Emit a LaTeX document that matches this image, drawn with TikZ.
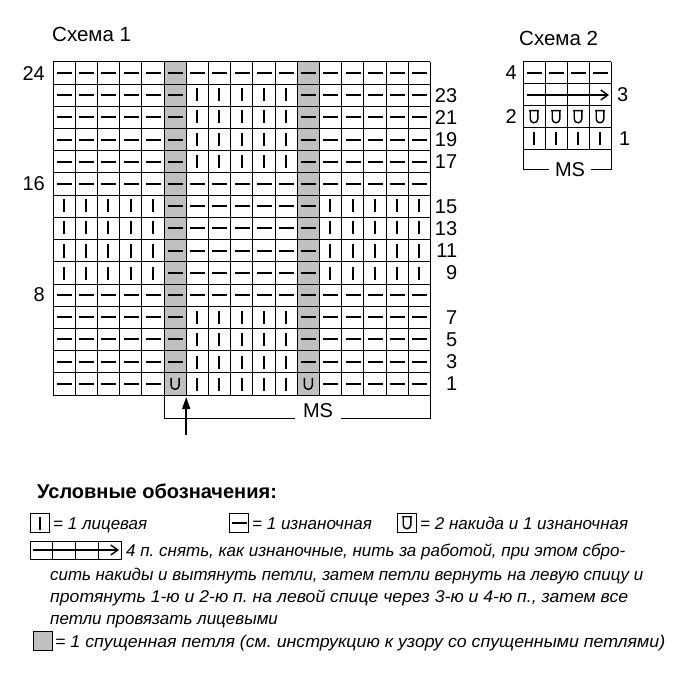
\documentclass[tikz,border=0pt]{standalone}
\usepackage{fontspec}
\usepackage{graphicx}
\setmainfont{Liberation Sans}
\usetikzlibrary{arrows.meta}
\frenchspacing

\definecolor{dropgray}{RGB}{192,192,192}
\newcommand{\cs}{22.2}% cell, chart 1
\newcommand{\cst}{22}% cell, chart 2
\newcommand{\legline}[2]{\resizebox{#1}{\height}{#2}}

\tikzset{
  gridline/.style={line width=1pt},
  stitch/.style={line width=2pt},
  rownum/.style={inner sep=0pt,font=\fontsize{20}{20}\selectfont},
  chartttl/.style={inner sep=0pt,anchor=base west,font=\fontsize{20.5}{20.5}\selectfont},
  legtext/.style={inner sep=0pt,anchor=base west,font=\fontsize{17}{17}\selectfont\itshape},
  legbox/.style={draw,line width=1pt,minimum size=19pt,inner sep=0pt},
  knitpic/.pic={\draw[stitch] (0,-6.5) -- (0,6.5);},
  purlpic/.pic={\draw[stitch] (-7.5,0) -- (7.5,0);},
  yopic/.pic={\draw[line width=1.4pt] (-4,6) -- (-4,-1.5) arc[start angle=180,end angle=360,radius=4] -- (4,6);},
  dblyopic/.pic={\draw[line width=1.4pt] (-4.8,6.3) -- (4.8,6.3) (-3.8,6.3) -- (-3.8,-2) arc[start angle=180,end angle=360,radius=3.8] -- (3.8,6.3);},
}

\begin{document}
\begin{tikzpicture}[x=1pt,y=1pt,yscale=-1]
\useasboundingbox (0,0) rectangle (700,700);

%Text: chart titles
\node[chartttl] (ttlA) at (52,42) {Схема 1};
\node[chartttl] (ttlB) at (519,46) {Схема 2};

%Chart 1
\begin{scope}[shift={(53,62)}]
% dropped stitch columns
\foreach \c in {6,12}
  \fill[dropgray] ({(\c-1)*\cs},0) rectangle ({\c*\cs},{15*\cs});
% rows 24, 16, 8: all purl
\foreach \r in {1,6,11}
  \foreach \c in {1,...,17}
    \pic at ({round((\c-0.5)*\cs)},{round((\r-0.5)*\cs)}) {purlpic};
% rows 23-17 and 7-3: knit centre panel
\foreach \r in {2,...,5,12,13,14} {
  \foreach \c in {1,...,6,12,13,...,17}
    \pic at ({round((\c-0.5)*\cs)},{round((\r-0.5)*\cs)}) {purlpic};
  \foreach \c in {7,...,11}
    \pic at ({round((\c-0.5)*\cs)},{round((\r-0.5)*\cs)}) {knitpic};
}
% row 1
\foreach \c in {1,...,5,13,14,...,17}
  \pic at ({round((\c-0.5)*\cs)},{round(14.5*\cs)}) {purlpic};
\foreach \c in {7,...,11}
  \pic at ({round((\c-0.5)*\cs)},{round(14.5*\cs)}) {knitpic};
\foreach \c in {6,12}
  \pic at ({(\c-0.5)*\cs},{14.5*\cs}) {yopic};
% rows 15-9: knit side panels
\foreach \r in {7,...,10} {
  \foreach \c in {1,...,5,13,14,...,17}
    \pic at ({round((\c-0.5)*\cs)},{round((\r-0.5)*\cs)}) {knitpic};
  \foreach \c in {6,...,12}
    \pic at ({round((\c-0.5)*\cs)},{round((\r-0.5)*\cs)}) {purlpic};
}
% grid
\foreach \i in {0,...,17}
  \draw[gridline] ({\i*\cs},0) -- ({\i*\cs},{15*\cs});
\foreach \j in {0,...,15}
  \draw[gridline] (0,{\j*\cs}) -- ({17*\cs},{\j*\cs});
% row numbers
\foreach \r/\lab in {1/24,6/16,11/8}
  \node[rownum,anchor=east] (lbl\lab) at (-8,{(\r-0.5)*\cs}) {\lab};
\foreach \r/\lab in {2/23,3/21,4/19,5/17,7/15,8/13,9/11,10/9,12/7,13/5,14/3,15/1}
  \node[rownum,anchor=east] (lbl\lab) at ({17*\cs+27},{(\r-0.5)*\cs}) {\lab};
% pattern repeat
\coordinate (msAL) at ({5*\cs},{15*\cs});
\coordinate (msAR) at ({17*\cs},{15*\cs});
\node[rownum,anchor=south] (msA) at (265,356) {MS};
\draw[gridline] (msAL) |- ([xshift=-8pt]msA.south west);
\draw[gridline] (msAR) |- ([xshift=8pt]msA.south east);
% start arrow
\coordinate (startTip) at ({6*\cs},{15*\cs+2});
\coordinate (startTail) at ({6*\cs},373);
\draw[line width=1.5pt,-{Triangle[length=12pt,width=8pt]}] (startTail) -- (startTip);
\end{scope}

%Chart 2
\begin{scope}[shift={(523,62)}]
\foreach \c in {1,...,4} {
  \pic at ({(\c-0.5)*\cst},{0.5*\cst}) {purlpic};
  \pic at ({(\c-0.5)*\cst},{2.5*\cst}) {dblyopic};
  \pic at ({(\c-0.5)*\cst},{3.5*\cst}) {knitpic};
}
\coordinate (crossL) at (4,{1.5*\cst});
\coordinate (crossR) at (86,{1.5*\cst});
\draw[line width=1.4pt,-{Straight Barb[length=7pt,width=10pt]}] (crossL) -- (crossR);
\foreach \i in {0,...,4}
  \draw[gridline] ({\i*\cst},0) -- ({\i*\cst},{4*\cst});
\foreach \j in {0,...,4}
  \draw[gridline] (0,{\j*\cst}) -- ({4*\cst},{\j*\cst});
\node[rownum,anchor=east] (lblB4) at (-6,{0.5*\cst}) {4};
\node[rownum,anchor=east] (lblB2) at (-6,{2.5*\cst}) {2};
\node[rownum,anchor=west] (lblB3) at (94,{1.5*\cst}) {3};
\node[rownum,anchor=west] (lblB1) at (96,{3.5*\cst}) {1};
\coordinate (msBL) at (0,{4*\cst});
\coordinate (msBR) at ({4*\cst},{4*\cst});
\node[rownum] (msB) at (47,108) {MS};
\draw[gridline] (msBL) |- ([xshift=-6pt]msB.west);
\draw[gridline] (msBR) |- ([xshift=6pt]msB.east);
\end{scope}

%Legend
\node[inner sep=0pt,anchor=base west,font=\fontsize{20}{20}\selectfont\bfseries] (legTtl) at (37,498) {Условные обозначения:};

\node[legbox] (keyKnit) at (40,523) {};
\pic at (keyKnit) {knitpic};
\node[legtext] (txtKnit) at (53,529) {= 1 лицевая};

\node[legbox] (keyPurl) at (239,523) {};
\pic at (keyPurl) {purlpic};
\node[legtext] (txtPurl) at (252,529) {= 1 изнаночная};

\node[legbox] (keyYo) at (407,523) {};
\pic at (keyYo) {dblyopic};
\node[legtext] (txtYo) at (420,529) {= 2 накида и 1 изнаночная};

\foreach \i in {0,...,3}
  \draw[gridline] ({30+\i*22.75},541) rectangle ({30+(\i+1)*22.75},559);
\coordinate (keyCrossL) at (33,550);
\coordinate (keyCrossR) at (119,550);
\draw[line width=1.4pt,-{Straight Barb[length=7pt,width=10pt]}] (keyCrossL) -- (keyCrossR);
\node[legtext] (txtCrossA) at (126,556) {\legline{499pt}{4 п. снять, как изнаночные, нить за работой, при этом сбро-}};
\node[legtext] (txtCrossB) at (50,580) {\legline{593pt}{сить накиды и вытянуть петли, затем петли вернуть на левую спицу и}};
\node[legtext] (txtCrossC) at (50,602) {\legline{578pt}{протянуть 1-ю и 2-ю п. на левой спице через 3-ю и 4-ю п., затем все}};
\node[legtext] (txtCrossD) at (50,624) {петли провязать лицевыми};

\node[legbox,fill=dropgray] (keyDrop) at (42.5,641) {};
\node[legtext] (txtDrop) at (55,647) {\legline{610pt}{= 1 спущенная петля (см. инструкцию к узору со спущенными петлями)}};
\end{tikzpicture}
\end{document}
